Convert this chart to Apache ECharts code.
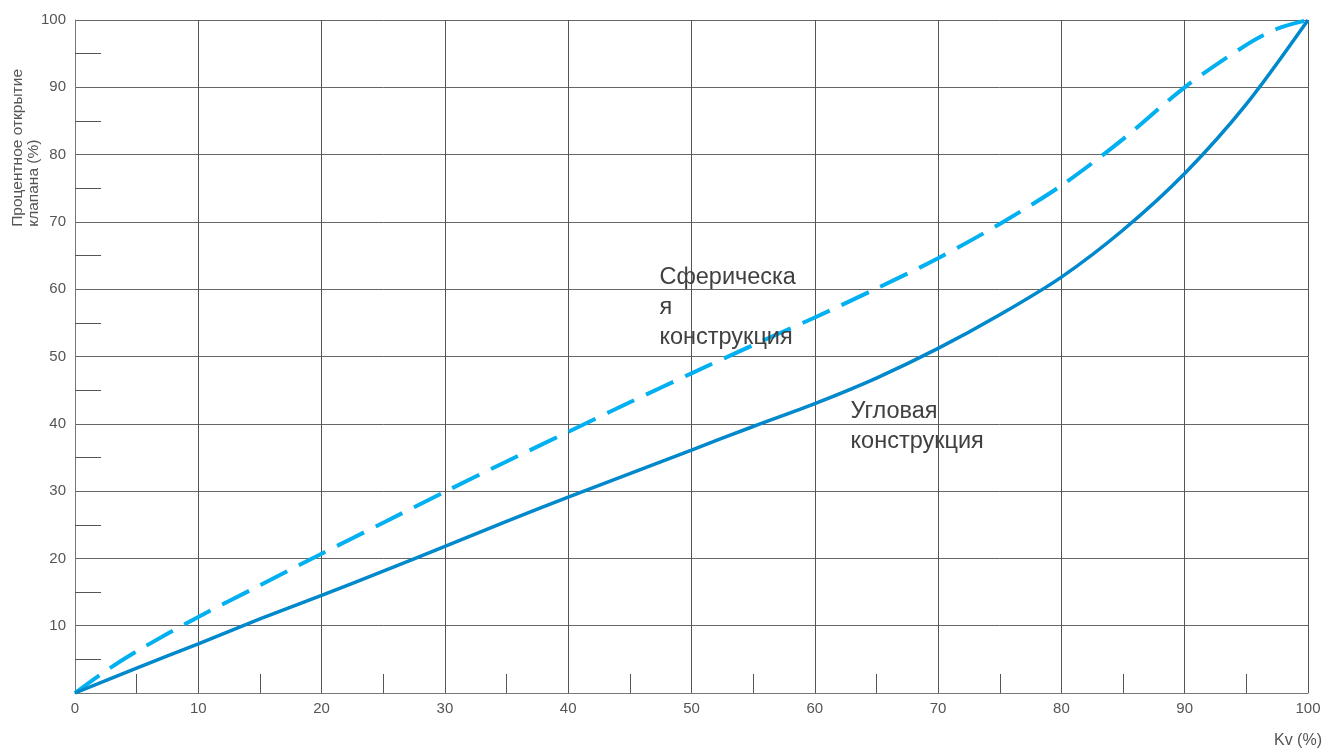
<!DOCTYPE html>
<html><head><meta charset="utf-8">
<script src="https://cdn.jsdelivr.net/npm/echarts@6/dist/echarts.min.js"></script>
<style>html,body{margin:0;padding:0;background:#fff}#c{width:1324px;height:749px}</style>
</head><body><div id="c"></div>
<script>
const xValues = [0,5,10,15,20,25,30,35,40,45,50,55,60,65,70,75,80,85,90,95,100];
const angularValues = [0,3.7,7.3,11,14.5,18.1,21.8,25.5,29.1,32.6,36.1,39.6,43,46.8,51.2,56.2,61.8,68.8,77.2,87.5,100];
const sphericalX = [0,2.5,5,10,15,20,25,30,35,40,45,50,55,60,65,70,75,80,85,90,95,97.5,100];
const sphericalValues = [0,3.3,6.2,11.3,16,20.7,25.3,29.9,34.4,38.8,43.2,47.5,51.7,55.8,60.1,64.6,69.7,75.4,82.3,90,96.3,98.7,100];
const sphericalLabel = 'Сферическа\nя\nконструкция';
const angularLabel = 'Угловая\nконструкция';
const yName = 'Процентное открытие\nклапана (%)';
const xName = 'Kv (%)';

const chart = echarts.init(document.getElementById('c'));
const font = 'Liberation Sans, Arial, sans-serif';
chart.setOption({
  animation: false,
  grid: {left: 75, right: 16, top: 20, bottom: 56},
  xAxis: {
    type: 'value', min: 0, max: 100, interval: 10,
    axisLine: {show: true, lineStyle: {color: '#777', width: 1}},
    axisTick: {show: true, inside: true, length: 0, lineStyle: {color: '#555'}},
    minorTick: {show: true, splitNumber: 2, length: 19, lineStyle: {color: '#555', width: 1}},
    axisLabel: {color: '#555', fontSize: 15, fontFamily: font, margin: 8},
    splitLine: {show: true, lineStyle: {color: '#555', width: 1}}
  },
  yAxis: {
    type: 'value', min: 0, max: 100, interval: 10,
    axisLine: {show: true, lineStyle: {color: '#777', width: 1}},
    axisTick: {show: true, inside: true, length: 0, lineStyle: {color: '#555'}},
    minorTick: {show: true, splitNumber: 2, length: 26, lineStyle: {color: '#555', width: 1}},
    axisLabel: {color: '#555', fontSize: 15, fontFamily: font, margin: 9,
      formatter: v => v === 0 ? '' : String(v)},
    splitLine: {show: true, lineStyle: {color: '#666', width: 1}}
  },
  graphic: [
    {type: 'text', left: 10, top: 69, rotation: Math.PI/2,
     style: {text: yName, font: '15.5px ' + font, fill: '#555', align: 'center', lineHeight: 16}},
    {type: 'text', right: 2, top: 733,
     style: {text: xName, font: '16px ' + font, fill: '#555'}}
  ],
  series: [
    {
      type: 'line', smooth: 0.3, symbol: 'none',
      data: sphericalX.map((x, i) => [x, sphericalValues[i]]),
      lineStyle: {color: '#00B0F0', width: 4, type: [30, 13]},
      markPoint: {
        symbol: 'circle', symbolSize: 0,
        label: {show: true, position: 'inside', align: 'left', verticalAlign: 'top',
          color: '#404040', fontSize: 23.5, fontFamily: font, lineHeight: 30,
          formatter: sphericalLabel},
        data: [{coord: [47.4, 64.0]}]
      }
    },
    {
      type: 'line', smooth: 0.3, symbol: 'none',
      data: xValues.map((x, i) => [x, angularValues[i]]),
      lineStyle: {color: '#0088CC', width: 3.5},
      markPoint: {
        symbol: 'circle', symbolSize: 0,
        label: {show: true, position: 'inside', align: 'left', verticalAlign: 'top',
          color: '#404040', fontSize: 23.5, fontFamily: font, lineHeight: 30,
          formatter: angularLabel},
        data: [{coord: [62.9, 44.0]}]
      }
    }
  ]
});
</script></body></html>
